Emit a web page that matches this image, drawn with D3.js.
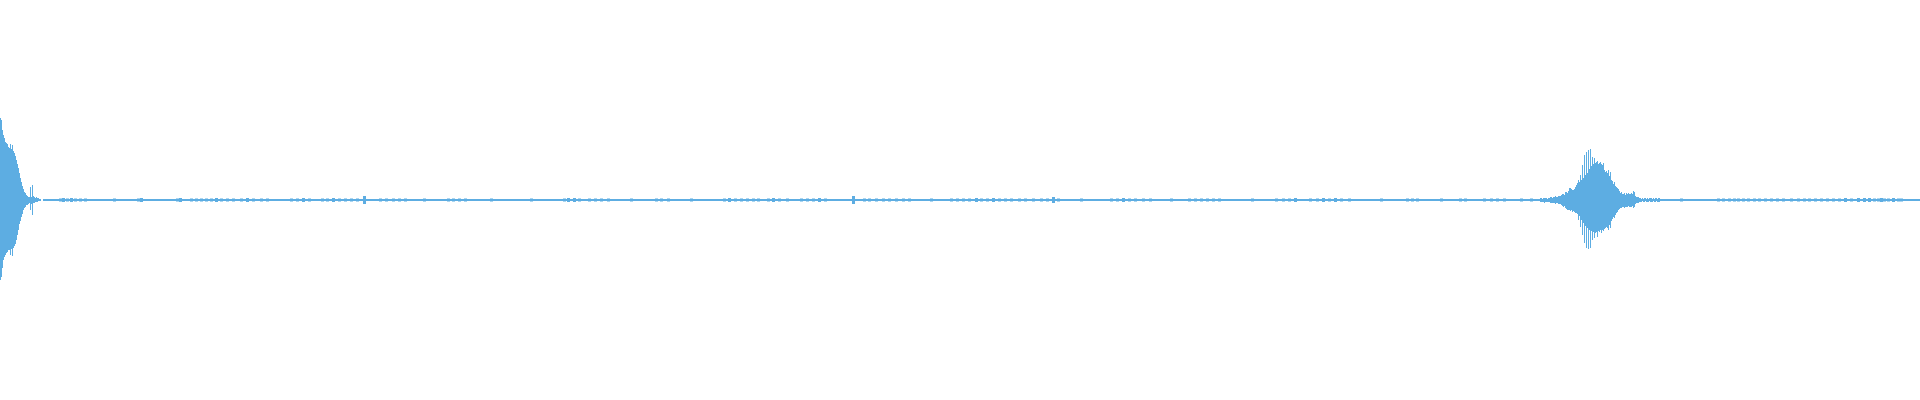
<!DOCTYPE html>
<html>
<head>
<meta charset="utf-8">
<script src="https://cdn.jsdelivr.net/npm/d3@7"></script>
<style>
html,body{margin:0;padding:0;background:#fff;overflow:hidden}
svg{display:block}
</style>
</head>
<body>
<svg id="chart" width="1920" height="400"></svg>
<script>
// Waveform: per-column peak amplitudes (in px units, positive = up / down)
const leftStart = 0;
const leftTop = [82,80,70,65,62,58,57,56,53,52,56,51,55,49,47,44,40,36,32,27,22,18,14,11,8,7,5,4,3,3,13,3,15,4,3,2,3,2,2,1,1];
const leftBottom = [80,77,68,60,57,55,53,52,50,50,55,49,56,48,46,44,40,35,30,24,21,17,14,10,8,7,5,5,4,3,10,4,15,3,3,2,2,2,1,1,1];

const rightStart = 1540;
const rightTop = [2,2,1,2,2,2,2,1,2,2, 3,3,2,3, 3,4,3,3,4, 4,4,5, 6,6,5, 8,8,7,9, 12,12,11, 10,10,11, 13,15, 17,20, 18, 25, 20, 35, 22, 45, 25, 48, 27, 50, 31, 51, 34, 43, 36, 42, 37, 38, 39, 36, 37, 38, 36, 35, 37, 30, 28, 29, 27, 30, 24, 28, 20, 19, 16, 18, 14, 13, 12, 11, 9, 7,8,6, 6,7,5,7, 6,7,6,6, 7,6,9, 8, 4,3,3,3,2, 2,1,2,1,2,2,1,2,1,2,2,2,1,2,1,2,2,1,2,2];
const rightBottom = [2,2,2,2,3,2,2,2,2,2, 3,3,3,3, 3,4,3,3,4, 4,4,5, 6,7,6, 8,9,10,10, 10,11,10, 12,11,12, 13,13, 14,20, 16, 27, 20, 35, 23, 43, 26, 48, 28, 49, 30, 48, 31, 40, 32, 38, 33, 32, 37, 31, 32, 30, 33, 30, 31, 29, 28, 27, 28, 30, 25, 28, 21, 19, 17, 18, 15, 13, 12, 10, 9, 8,8,7, 7,8,7,7, 7,6,7,7, 7,6,8, 7, 4,3,3,3,2, 2,2,1,2,2,1,2,2,2,1,2,2,2,1,2,2,1,2,2,2];

// baseline (quiet section) span and its floor amplitude
const baseStart = 43, baseEnd = 1920, baseAmp = 1;

// small noise ticks in the quiet section: [column, amplitude]
const noiseX = [59,62,66,70,74,79,84,113,137,140,176,179,190,195,200,205,210,215,220,226,232,240,246,252,260,266,290,296,302,308,321,326,332,338,344,350,356,363,379,385,392,398,404,423,447,452,458,464,490,530,563,567,573,578,588,594,600,607,630,655,660,667,690,723,728,734,740,746,752,757,767,772,778,786,800,806,812,818,824,852,863,868,875,882,888,895,902,908,930,950,956,962,968,975,980,986,992,998,1004,1010,1018,1024,1032,1040,1046,1052,1057,1080,1110,1116,1122,1128,1134,1142,1149,1170,1188,1194,1200,1206,1212,1218,1251,1275,1282,1288,1294,1309,1316,1322,1328,1334,1340,1348,1380,1406,1411,1416,1440,1459,1464,1483,1490,1496,1503,1520,1530,1680,1717,1722,1728,1733,1737,1742,1747,1753,1758,1764,1770,1776,1782,1790,1797,1803,1808,1814,1820,1826,1832,1838,1844,1850,1857,1863,1868,1873,1877,1880,1883,1887,1892,1897,1900,1905,1910,1913];
const noiseAmp = [1.5,2,1.5,2,1.5,1.5,1.5,1.5,1.5,2,1.5,2,1.5,1.5,1.5,1.5,1.5,2,1.5,1.5,1.5,1.5,2,1.5,1.5,1.5,1.5,1.5,2,1.5,1.5,1.5,2,1.5,1.5,1.5,1.5,4,1.5,1.5,1.5,1.5,1.5,1.5,1.5,1.5,1.5,1.5,1.5,1.5,1.5,2,2,1.5,1.5,1.5,1.5,1.5,1.5,1.5,1.5,1.5,1.5,1.5,2,1.5,1.5,1.5,1.5,1.5,1.5,2,1.5,1.5,1.5,1.5,1.5,2,1.5,4,1.5,1.5,1.5,1.5,1.5,1.5,1.5,1.5,1.5,1.5,1.5,1.5,1.5,2,1.5,1.5,2,1.5,1.5,1.5,1.5,1.5,1.5,1.5,1.5,3,1.5,1.5,1.5,1.5,2,1.5,1.5,1.5,1.5,1.5,1.5,1.5,1.5,1.5,1.5,1.5,1.5,1.5,1.5,1.5,2,1.5,1.5,2,1.5,2,1.5,1.5,1.5,1.5,1.5,1.5,1.5,1.5,1.5,1.5,1.5,1.5,1.5,1.5,1.5,1.5,1.5,1.5,1.5,1.5,1.5,1.5,1.5,1.5,1.5,1.5,1.5,1.5,1.5,1.5,1.5,1.5,1.5,1.5,1.5,1.5,1.5,1.5,2,1.5,2,2,2,1.5,1.5,2,1.5,1.5,2,1.5,1.5];

const color = "#5dade2";
const W = 1920, H = 400;
const svg = d3.select("#chart");
const x = d3.scaleLinear().domain([0, W]).range([0, W]);
const y = d3.scaleLinear().domain([-200, 200]).range([H, 0]);

const cols = [];
leftTop.forEach((t, i) => cols.push({c: leftStart + i, t, b: leftBottom[i]}));
rightTop.forEach((t, i) => cols.push({c: rightStart + i, t, b: rightBottom[i]}));

const g = svg.append("g").attr("fill", color);

// baseline
g.append("rect")
  .attr("x", x(baseStart)).attr("width", x(baseEnd) - x(baseStart))
  .attr("y", y(baseAmp)).attr("height", y(-baseAmp) - y(baseAmp));

// noise ticks
g.selectAll("rect.noise").data(noiseX.map((c, i) => ({c, a: noiseAmp[i]})))
  .join("rect").attr("class", "noise")
  .attr("x", d => x(d.c)).attr("width", 3)
  .attr("y", d => y(d.a)).attr("height", d => y(-d.a) - y(d.a));

// burst columns
g.selectAll("rect.col").data(cols)
  .join("rect").attr("class", "col")
  .attr("shape-rendering", "crispEdges")
  .attr("x", d => x(d.c)).attr("width", x(1) - x(0))
  .attr("y", d => y(d.t)).attr("height", d => y(-d.b) - y(d.t));
</script>
</body>
</html>
